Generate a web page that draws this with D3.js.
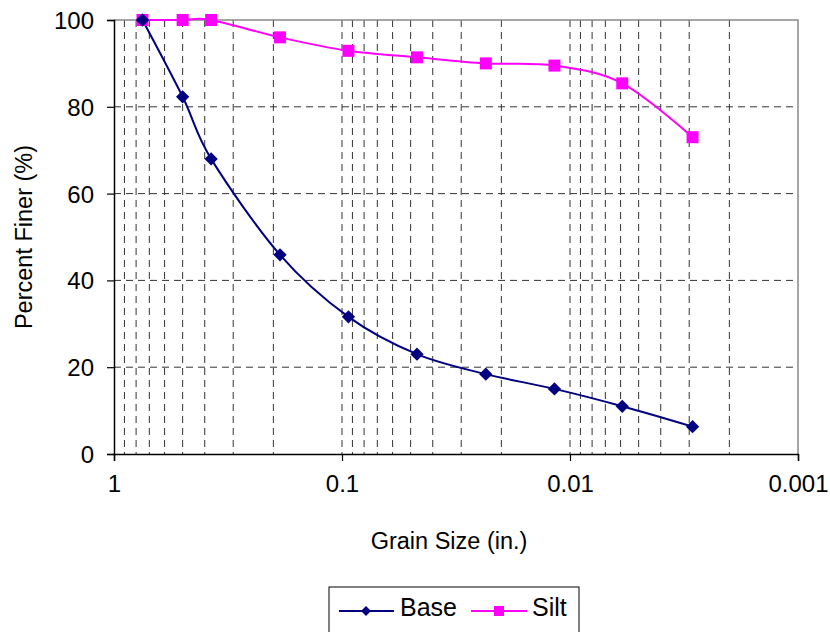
<!DOCTYPE html>
<html>
<head>
<meta charset="utf-8">
<script src="https://cdn.jsdelivr.net/npm/d3@7"></script>
<style>
  body { margin: 0; background: #fff; }
  text { font-family: Arial, "Liberation Sans", sans-serif; }
</style>
</head>
<body>
<div id="chart"></div>
<script>
// grain sizes (in.) and percent finer
const sizes = [0.75, 0.5, 0.375, 0.187, 0.0937, 0.0469, 0.0234, 0.0117, 0.0059, 0.0029];
const base = [100, 82.3, 68.0, 45.9, 31.6, 23.0, 18.4, 15.0, 11.0, 6.3];
const silt = [100, 100, 100, 96.0, 92.9, 91.4, 90.0, 89.5, 85.4, 73.0];
const xTicks = [1, 0.1, 0.01, 0.001];
const xTickLabels = ["1", "0.1", "0.01", "0.001"];
const yTicks = [0, 20, 40, 60, 80, 100];

const margin = { top: 20, right: 32, bottom: 178, left: 114 };
const W = 830, H = 632;
const width = W - margin.left - margin.right;
const height = H - margin.top - margin.bottom;

const svg = d3.select("#chart").append("svg")
  .attr("width", W)
  .attr("height", H);

const g = svg.append("g")
  .attr("transform", `translate(${margin.left},${margin.top})`);

const x = d3.scaleLog().domain([1, 0.001]).range([0, width]);
const y = d3.scaleLinear().domain([0, 100]).range([height, 0]);

// vertical grid at every log step inside the range
const gridX = [];
[0.1, 0.01, 0.001].forEach(dec => {
  for (let k = 9; k >= 1; k--) {
    const v = dec * k;
    if (v < 1 && v > 0.001) gridX.push(v);
  }
});

g.append("g").selectAll("line").data(gridX).join("line")
  .attr("x1", d => x(d)).attr("x2", d => x(d))
  .attr("y1", 0).attr("y2", height)
  .attr("stroke", "#333").attr("stroke-width", 1)
  .attr("stroke-dasharray", "7,5");

g.append("g").selectAll("line").data([20, 40, 60, 80]).join("line")
  .attr("x1", 0).attr("x2", width)
  .attr("y1", d => y(d)).attr("y2", d => y(d))
  .attr("stroke", "#333").attr("stroke-width", 1)
  .attr("stroke-dasharray", "7,5");

// plot area border (top and right gray)
g.append("path")
  .attr("d", `M0,0H${width}V${height}`)
  .attr("fill", "none").attr("stroke", "#888").attr("stroke-width", 1.5);

// axes
const xAxis = g.append("g")
  .attr("transform", `translate(0,${height})`)
  .call(d3.axisBottom(x).tickValues(xTicks).tickFormat((d, i) => xTickLabels[i]).tickSize(7).tickPadding(14));
const yAxis = g.append("g")
  .call(d3.axisLeft(y).tickValues(yTicks).tickSize(7).tickPadding(13));

[xAxis, yAxis].forEach(a => {
  a.select(".domain").attr("stroke", "#000").attr("stroke-width", 1.5);
  a.selectAll(".tick line").attr("stroke", "#000").attr("stroke-width", 1.2);
  a.selectAll(".tick text").attr("font-size", 24).attr("fill", "#000")
    .style("font-family", "Arial, 'Liberation Sans', sans-serif");
});
yAxis.selectAll(".tick text").attr("dy", "0.35em");

// lines
const line = d3.line()
  .x(d => x(d[0]))
  .y(d => y(d[1]))
  .curve(d3.curveCardinal.tension(0));

const baseData = sizes.map((s, i) => [s, base[i]]);
const siltData = sizes.map((s, i) => [s, silt[i]]);

g.append("path").datum(siltData)
  .attr("fill", "none").attr("stroke", "#FF00FF").attr("stroke-width", 2)
  .attr("d", line);
g.append("path").datum(baseData)
  .attr("fill", "none").attr("stroke", "#000080").attr("stroke-width", 2)
  .attr("d", line);

const diamond = d3.symbol().type(d3.symbolSquare).size(88);

g.append("g").selectAll("rect").data(siltData).join("rect")
  .attr("x", d => x(d[0]) - 6).attr("y", d => y(d[1]) - 6)
  .attr("width", 12).attr("height", 12)
  .attr("fill", "#FF00FF");

g.append("g").selectAll("path").data(baseData).join("path")
  .attr("d", diamond)
  .attr("transform", d => `translate(${x(d[0])},${y(d[1])}) rotate(45)`)
  .attr("fill", "#000080");

// axis titles
svg.append("text")
  .attr("x", margin.left + width / 2 - 7)
  .attr("y", 549)
  .attr("text-anchor", "middle")
  .attr("font-size", 23.5)
  .text("Grain Size (in.)");

svg.append("text")
  .attr("transform", `translate(32,${margin.top + height / 2}) rotate(-90)`)
  .attr("text-anchor", "middle")
  .attr("font-size", 23.5)
  .text("Percent Finer (%)");

// legend
const leg = svg.append("g");
leg.append("rect")
  .attr("x", 329).attr("y", 587).attr("width", 250).attr("height", 60)
  .attr("fill", "#fff").attr("stroke", "#000").attr("stroke-width", 1);

leg.append("line").attr("x1", 339).attr("x2", 394).attr("y1", 611).attr("y2", 611)
  .attr("stroke", "#000080").attr("stroke-width", 2);
leg.append("path").attr("d", d3.symbol().type(d3.symbolSquare).size(50))
  .attr("transform", "translate(366,611) rotate(45)").attr("fill", "#000080");
leg.append("text").attr("x", 400).attr("y", 616).attr("font-size", 25).text("Base");

leg.append("line").attr("x1", 471).attr("x2", 527).attr("y1", 611).attr("y2", 611)
  .attr("stroke", "#FF00FF").attr("stroke-width", 2);
leg.append("rect").attr("x", 494).attr("y", 606).attr("width", 10).attr("height", 10)
  .attr("fill", "#FF00FF");
leg.append("text").attr("x", 532).attr("y", 616).attr("font-size", 25).text("Silt");
</script>
</body>
</html>
